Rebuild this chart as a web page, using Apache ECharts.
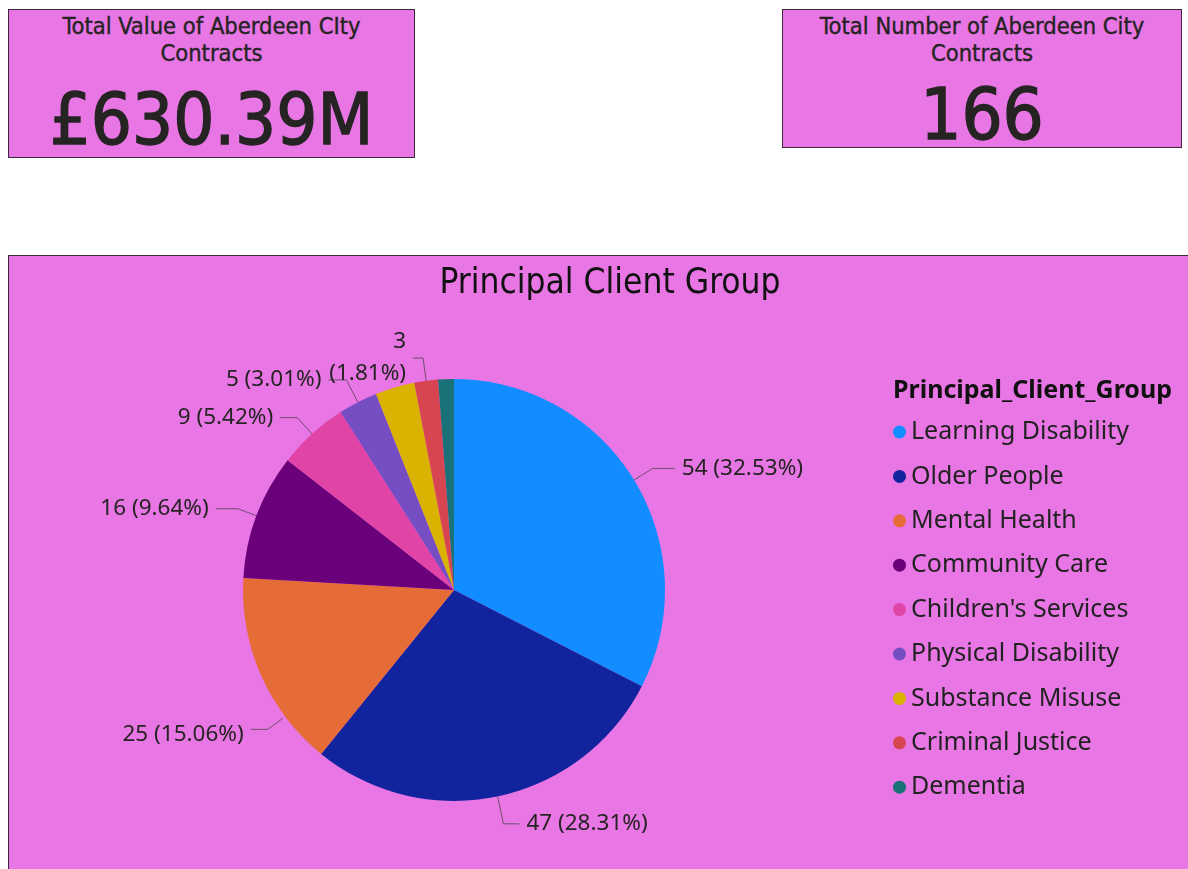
<!DOCTYPE html>
<html>
<head>
<meta charset="utf-8">
<script src="https://cdn.jsdelivr.net/npm/echarts@6/dist/echarts.min.js"></script>
<style>
  html, body { margin: 0; padding: 0; width: 1188px; height: 869px; overflow: hidden; background: #fff; }
  .card {
    position: absolute; background: #e976e5; border: 1.5px solid #3a2a3a; box-sizing: border-box;
    font-family: "DejaVu Sans Condensed", "Liberation Sans Narrow", "DejaVu Sans", sans-serif; color: #252423; text-align: center;
  }
  .card .head { font-size: 23.5px; line-height: 27px; margin-top: 3px; -webkit-text-stroke: 0.4px #252423; }
  .card .big { font-size: 72px; line-height: 80px; -webkit-text-stroke: 1.4px #252423; }
  #chart { position: absolute; left: 8px; top: 255px; width: 1190px; height: 620px; border: 1.5px solid #3a2a3a; box-sizing: border-box; }
</style>
</head>
<body>
<div class="card" style="left:8px;top:9px;width:407px;height:149px;">
  <div class="head">Total Value of Aberdeen CIty<br>Contracts</div>
  <div class="big" style="margin-top:12px;">£630.39M</div>
</div>
<div class="card" style="left:782px;top:9px;width:400px;height:139px;">
  <div class="head">Total Number of Aberdeen City<br>Contracts</div>
  <div class="big" style="margin-top:7px;">166</div>
</div>
<div id="chart"></div>
<script>
// 数据
const groups = ['Learning Disability', 'Older People', 'Mental Health', 'Community Care', "Children's Services",
  'Physical Disability', 'Substance Misuse', 'Criminal Justice', 'Dementia'];
const counts = [54, 47, 25, 16, 9, 5, 5, 3, 2];
const colors = ['#118dff', '#12239e', '#e66c37', '#6b007b', '#e044a7', '#744ec2', '#d9b300', '#d64550', '#197278'];
// 被遮挡没显示标签的类别
const hiddenLabels = ['Substance Misuse', 'Dementia'];
// 每个标签引线的长度 [length, length2]
const lineLens = [[22, 22], [28, 16], [14, 20], [20, 22], [22, 17], [25, 18], [0, 0], [23, 10], [0, 0]];

const pieData = groups.map((name, i) => {
  const item = { name: name, value: counts[i], labelLine: { length: lineLens[i][0], length2: lineLens[i][1] } };
  if (hiddenLabels.includes(name)) {
    item.label = { show: false };
    item.labelLine = { show: false };
  }
  if (name === 'Criminal Justice') {
    item.label = { formatter: '{c}\n({d}%)', align: 'right', lineHeight: 32 };
  }
  return item;
});

const R = 211;

// Mental Health 的标签放得比扇区中点更靠下（跟原图一样）
const moveMentalHealth = params => {
  if (params.dataIndex !== 2) return;
  const pts = params.labelLinePoints;
  const p0 = pts[0], p1 = pts[1];
  const len = Math.hypot(p1[0] - p0[0], p1[1] - p0[1]);
  const dx = (p1[0] - p0[0]) / len, dy = (p1[1] - p0[1]) / len;
  const cx = p0[0] - dx * R, cy = p0[1] - dy * R;
  const ang = Math.atan2(dy, dx) - 13 * Math.PI / 180;
  const a0 = [cx + Math.cos(ang) * (R + 3), cy + Math.sin(ang) * (R + 3)];
  const a1 = [a0[0] - 15, a0[1] + 11];
  const a2 = [a1[0] - 17, a1[1]];
  return {
    x: a2[0] - 7, y: a2[1] + 5,
    align: 'right', verticalAlign: 'middle',
    labelLinePoints: [a0, a1, a2]
  };
};

var myChart = echarts.init(document.getElementById('chart'));

var option = {
  backgroundColor: '#e976e5',
  color: colors,
  title: [
    {
      text: 'Principal Client Group',
      left: 596, top: 5, textAlign: 'center',
      textStyle: { fontFamily: 'DejaVu Sans Condensed, Liberation Sans Narrow, sans-serif', fontSize: 35, fontWeight: 500, color: '#111' }
    },
    {
      text: 'Principal_Client_Group',
      left: 879, top: 117,
      textStyle: { fontFamily: 'Noto Sans', fontSize: 25, fontWeight: 'bold', color: '#111' }
    }
  ],
  legend: {
    orient: 'vertical',
    left: 879, top: 156,
    icon: 'circle',
    itemWidth: 13, itemHeight: 13,
    itemGap: 14.4,
    textStyle: { fontFamily: 'Noto Sans', fontSize: 25, color: '#222', lineHeight: 30 },
    data: groups
  },
  series: [
    {
      type: 'pie',
      center: [445, 334],
      radius: R,
      startAngle: 90,
      avoidLabelOverlap: false,
      data: pieData,
      label: {
        formatter: '{c} ({d}%)',
        fontFamily: 'Noto Sans',
        fontSize: 22.5,
        color: '#252423',
        distanceToLabelLine: 7
      },
      labelLine: {
        lineStyle: { color: '#6e4e6e', width: 1 }
      },
      labelLayout: moveMentalHealth,
      itemStyle: { borderWidth: 0 },
      emphasis: { disabled: true }
    }
  ]
};

myChart.setOption(option);
</script>
</body>
</html>
